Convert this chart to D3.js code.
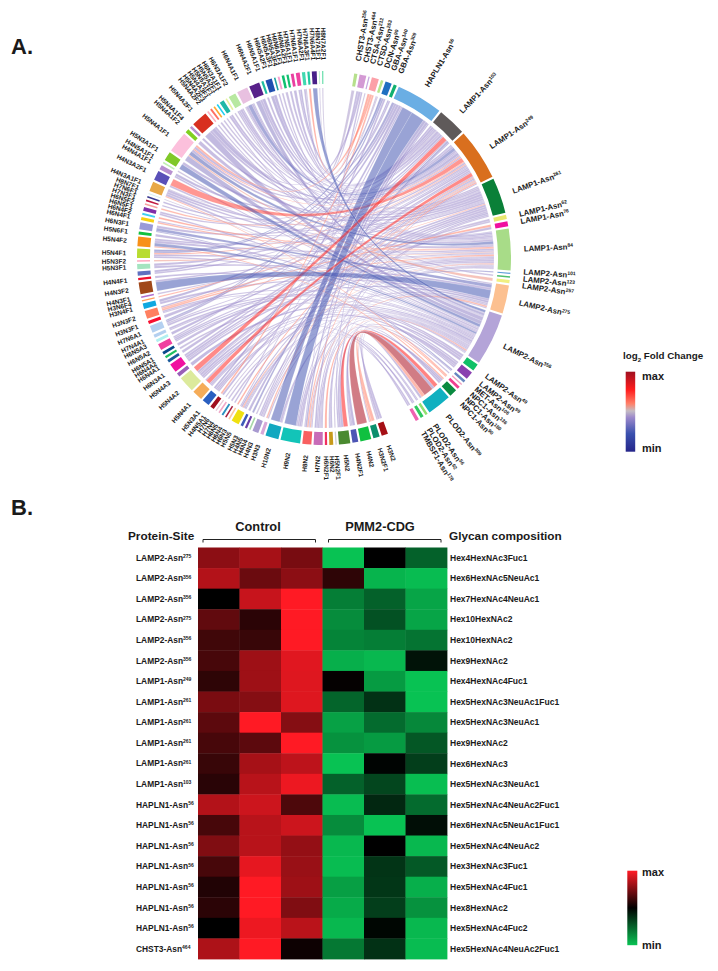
<!DOCTYPE html>
<html lang="en">
<head>
<meta charset="UTF-8">
<title>Glycopeptide chord diagram and heatmap</title>
<script src="https://d3js.org/d3.v7.min.js"></script>
<style>
    body { margin: 0; background: #fff; }
    svg { display: block; }
    text { font-family: "Liberation Sans", Arial, sans-serif; font-weight: bold; fill: #1a1a1a; }
</style>
</head>
<body>
<svg id="chart" width="718" height="971"></svg>
<script>
// protein sites clockwise from the top, arc length
const sites = ["CHST3-Asn256","CHST3-Asn464","CTSA-Asn212","CTSD-Asn263","DCN-Asn90","GBA-Asn140","GBA-Asn309","HAPLN1-Asn56",
    "LAMP1-Asn103","LAMP1-Asn249","LAMP1-Asn261","LAMP1-Asn62","LAMP1-Asn76","LAMP1-Asn84","LAMP2-Asn101","LAMP2-Asn123",
    "LAMP2-Asn257","LAMP2-Asn275","LAMP2-Asn356","LAMP2-Asn49","LAMP2-Asn99","MET-Asn106","NPC1-Asn136","NPC1-Asn180",
    "NPC1-Asn90","PLOD2-Asn309","PLOD2-Asn56","PLOD2-Asn62","TMBSF1-Asn178"];
const siteSizes = [1,2.1,.4,2.2,.8,2,1,14.5,8.8,16,11,1.3,1.6,12.9,.4,.5,1,8.8,16.1,2.3,2.5,.8,.4,.9,2.4,7.5,.8,1,1.1];
const siteColors = ["#b6e08c","#d49ad4","#c8a8e0","#fca0a8","#b8e68c","#1f6fc0","#10b070","#6aaee4","#5f5a5a","#d96f1e",
    "#0a8038","#e8e870","#f010a0","#a8dc88","#5f9fd8","#50c070","#f0f080","#fcc090","#b4a4d8","#10c068","#8a40b0","#6888c0",
    "#f0a0c0","#f04090","#0a8a40","#10b0c0","#90e070","#30c860","#f060b0"];

// glycans clockwise from the bottom
const glycans = ["H3N2","H3N2F1","H4N2","H4N2F1","H5N2","H5N2F1","H6N2","H6N2F1","H7N2","H8N2","H9N2","H10N2",
    "H3N3","H4N3","H4N4","H4N5","H5N3","H5N5","H6N3","H6N4","H6N5","H7N4","H7N6",
    "H4N5A1","H5N3A1","H5N4A1","H5N4A2","H5N4A3","H6N3A1","H6N4A1","H6N4A2","H6N5A1","H6N5A2","H6N5A3","H7N4A1","H7N6A1",
    "H3N3F1","H3N3F2","H3N4F1","H3N6F4","H4N3F1","H4N3F2","H4N4F1","","H5N3F1","H5N3F2","H5N4F1",
    "H5N4F2","H5N6F1","H6N3F1","H6N4F1","H6N4F2","H6N5F1","H6N5F2","H7N3F1","H7N6F1","H8N7F1",
    "H4N3A1F1","H4N3A2F1","H4N4A1F1","H4N5A1F1","H5N3A1F1","H5N4A1F1","H5N4A1F2","H5N4A1F4","H5N4A2F1",
    "H5N4A2F2","H5N4A2F3","H5N4A3F1","H5N5A1F1","H5N5A2F1","H6N3A1F1","H6N3A1F2","H6N4A1F1","H6N4A2F1",
    "H6N5A1F1","H6N5A2F1","H6N5A3F1","H6N5A3F4","H6N6A1F1","H6N6A2F1","H7N5A1F1","H7N6A1F1","H7N6A2F1","H7N6A3F1","H7N6A4F1",
    "H8N7A1F1","H8N7A2F1"];
const glycanSizes = [2,2,3.4,1.8,3.5,.4,1.2,.7,2.8,2.8,6.1,4.1,
    1,1.9,.5,.7,.8,2.4,.5,.5,.6,.5,.4,
    1.3,2.3,3.2,5,1.2,2.8,.9,.7,.9,2,.9,1,2.2,
    1,2.5,1.7,.4,.5,3.7,.7,1.3,1.6,.5,2.9,
    3,.9,2.2,1,.6,1.2,.5,.5,.5,.3,
    3,3,1.4,.5,2.8,6.5,1.2,.8,5,
    .5,.6,.5,.5,1.4,.5,2.3,3.4,3.3,
    .7,2,.5,.6,.8,.7,.9,1.2,1,.7,1.5,
    .3,.4];
const glycanColors = ["#a50f15","#0a8f6c","#10c040","#4d55b5","#4a8a30","#d0d0d0","#c79a1a","#f03060","#c86cb8","#f86060","#12c4b8","#12a8c0",
    "#d8a8d8","#a89ad0","#a8d8a8","#6a3fa8","#3f5bb8","#f0e010","#fcc8a0","#a82040","#2a90c0","#f0a8c8","#e8c8d8",
    "#a00f1f","#2a5fc0","#f5ac58","#dcea9c","#9a5fb8","#f010a0","#1a5a9a","#20c060","#0a4a8a","#f040a0","#b0f0f0","#b4d0f0",
    "#b4d0f0","#f81030","#ff8060","#10a8e0","#ffa060","#b070d0","#a0481a","#f01030","#6070c0","#a4e4c0","#ffa8c0","#b8dc30",
    "#f89018","#10c040","#9a9ad8","#f8d010","#40d0f0","#8030a8","#f8a0a0","#c01840","#3a3a90","#d8f0f0",
    "#e8a848","#5a50b8","#b890d0","#c0f0b0","#80c828","#fcc0dc","#80d020","#b890d0","#d83020",
    "#ffb0c0","#ff7060","#ffa830","#20d0f0","#20b8a8","#e8f0a0","#b8e8a0","#e8c0e0","#58208a",
    "#20c0a0","#2050b0","#20a0a0","#f8a0d0","#10c070","#10c070","#e840a0","#f040a0","#40d8b0","#20c8a0","#482088",
    "#c0f0d0","#70e0b0"];

// [glycan, site index, ribbon width, log2 fold change scaled to -1..1]
const links = [
    ["H3N2",25,.8,-.15],["H3N2",24,.7,-.15],["H3N2",18,.5,-.12],
    ["H3N2F1",25,1.1,.2],["H3N2F1",23,.5,.2],["H3N2F1",18,.4,-.15],
    ["H4N2",25,3.2,.95],
    ["H4N2F1",25,.9,-.18],["H4N2F1",20,.5,-.15],["H4N2F1",17,.4,-.15],
    ["H5N2",25,1.3,.55],["H5N2",18,.8,-.15],["H5N2",9,.6,-.15],["H5N2",7,.4,-.2],
    ["H5N2F1",13,.4,-.1],
    ["H6N2",24,.6,-.2],["H6N2",10,.6,-.15],["H6N2",21,.3,-.2],
    ["H6N2F1",18,.7,.25],
    ["H7N2",7,.8,-.2],["H7N2",10,.7,-.15],["H7N2",13,.7,-.15],["H7N2",18,.6,-.12],["H7N2",20,.5,-.15],["H7N2",28,.5,-.15],
    ["H8N2",7,.9,-.22],["H8N2",9,.7,.22],["H8N2",13,.6,-.15],["H8N2",17,.6,.18],["H8N2",1,.5,-.15],["H8N2",22,.3,-.15],["H8N2",27,.5,-.15],
    ["H9N2",7,4.2,-.5],["H9N2",18,.8,-.15],["H9N2",13,.6,-.15],["H9N2",9,.5,-.15],["H9N2",26,.4,-.15],
    ["H10N2",7,3.3,-.48],["H10N2",18,.8,-.15],["H10N2",26,.3,-.15],
    ["H3N3",9,.5,.18],["H3N3",17,.5,-.12],
    ["H4N3",8,.7,-.15],["H4N3",9,.6,-.15],["H4N3",18,.6,-.15],["H4N3",11,.5,-.12],
    ["H4N4",13,.5,-.1],["H4N5",8,.7,-.3],["H5N3",9,.8,-.18],
    ["H5N5",10,.7,-.2],["H5N5",18,.6,-.15],["H5N5",13,.6,.2],["H5N5",7,.5,-.15],["H5N5",14,.3,-.3],["H5N5",28,.5,-.15],
    ["H6N3",9,.5,.25],["H6N4",5,.6,-.15],["H6N5",17,.5,-.12],["H7N4",18,.5,-.12],["H7N6",13,.4,-.1],
    ["H4N5A1",9,.7,-.15],["H4N5A1",3,.6,.22],
    ["H5N3A1",7,.8,-.2],["H5N3A1",10,.8,-.15],["H5N3A1",18,.7,-.15],["H5N3A1",19,.6,-.15],
    ["H5N4A1",9,2,.5],["H5N4A1",8,.6,-.15],["H5N4A1",18,.6,-.15],["H5N4A1",24,.6,-.15],["H5N4A1",27,.5,-.15],
    ["H5N4A2",8,2.2,.5],["H5N4A2",13,1,-.15],["H5N4A2",10,1,-.15],["H5N4A2",18,.8,-.15],["H5N4A2",11,.6,-.12],["H5N4A2",20,.7,-.15],
    ["H5N4A3",18,1.2,-.18],
    ["H6N3A1",10,1,-.15],["H6N3A1",13,1,-.15],["H6N3A1",9,.8,-.15],["H6N3A1",12,.6,-.15],
    ["H6N4A1",9,.9,-.15],["H6N4A2",18,.7,-.12],["H6N5A1",13,.9,-.15],
    ["H6N5A2",17,.7,-.2],["H6N5A2",13,.7,-.15],["H6N5A2",8,.6,-.15],["H6N5A2",19,.5,-.15],
    ["H6N5A3",10,.9,-.18],
    ["H7N4A1",18,1,-.15],["H7N4A1",19,.5,-.15],
    ["H7N6A1",7,.8,-.2],["H7N6A1",18,.8,-.15],["H7N6A1",13,.6,-.12],["H7N6A1",5,.5,-.3],
    ["H3N3F1",9,1,-.15],
    ["H3N3F2",13,.9,.2],["H3N3F2",9,.8,-.15],["H3N3F2",18,.8,-.15],["H3N3F2",12,.6,.2],["H3N3F2",20,.5,-.15],
    ["H3N4F1",8,.9,-.2],["H3N4F1",17,.8,-.15],
    ["H3N6F4",10,.4,.22],["H4N3F1",13,.5,-.12],
    ["H4N3F2",17,3,-.5],["H4N3F2",13,.7,-.15],
    ["H4N4F1",18,.7,-.15],
    ["",7,.7,-.2],["",9,.6,-.15],
    ["H5N3F1",17,.8,-.15],["H5N3F1",9,.8,-.15],
    ["H5N3F2",13,.5,.15],
    ["H5N4F1",7,.8,-.3],["H5N4F1",13,.8,-.15],["H5N4F1",18,.7,-.15],["H5N4F1",9,.6,.2],["H5N4F1",5,.6,-.4],
    ["H5N4F2",18,1.2,-.45],["H5N4F2",13,1,-.15],["H5N4F2",10,.8,-.15],["H5N4F2",24,.5,.2],
    ["H5N6F1",18,.9,-.15],
    ["H6N3F1",17,1.2,-.4],["H6N3F1",9,1,-.15],["H6N3F1",21,.4,-.3],
    ["H6N4F1",13,.5,.2],["H6N4F1",10,.5,-.15],
    ["H6N4F2",13,.6,.25],
    ["H6N5F1",18,.6,-.15],["H6N5F1",8,.6,-.15],
    ["H6N5F2",9,.5,.2],["H7N3F1",10,.5,-.15],["H7N6F1",8,.5,-.18],["H8N7F1",18,.3,-.1],
    ["H4N3A1F1",13,1,-.15],["H4N3A1F1",10,1,-.15],["H4N3A1F1",18,1,-.15],["H4N3A1F1",4,.4,-.1],["H4N3A1F1",23,.5,.2],
    ["H4N3A2F1",9,2.4,.42],["H4N3A2F1",13,.6,-.15],
    ["H4N4A1F1",9,.8,-.18],["H4N4A1F1",18,.6,-.15],
    ["H4N5A1F1",18,.5,-.1],
    ["H5N3A1F1",18,1.8,-.48],["H5N3A1F1",10,1,-.15],
    ["H5N4A1F1",13,1.7,-.45],["H5N4A1F1",18,2.4,-.22],["H5N4A1F1",8,1.2,-.15],["H5N4A1F1",10,1.2,-.15],["H5N4A1F1",9,.5,.25],["H5N4A1F1",3,.8,.22],["H5N4A1F1",16,.7,.15],
    ["H5N4A1F2",13,1.2,-.15],["H5N4A1F4",9,.8,-.15],
    ["H5N4A2F1",18,2.6,-.2],["H5N4A2F1",10,1,-.15],["H5N4A2F1",9,1.4,-.2],["H5N4A2F1",1,.8,-.15],
    ["H5N4A2F2",17,.5,-.12],["H5N4A2F3",13,.6,-.12],["H5N4A3F1",10,.5,-.12],["H5N5A1F1",18,.5,-.12],
    ["H5N5A2F1",9,.7,-.15],["H5N5A2F1",13,.7,-.15],
    ["H6N3A1F1",8,.5,-.1],
    ["H6N3A1F2",9,1,-.15],["H6N3A1F2",10,.7,-.15],["H6N3A1F2",18,.6,-.15],["H6N3A1F2",6,.5,-.15],
    ["H6N4A1F1",9,1.6,-.4],["H6N4A1F1",13,1,-.15],["H6N4A1F1",8,.8,-.15],["H6N4A1F1",6,.4,-.2],["H6N4A1F1",15,.4,-.12],
    ["H6N4A2F1",18,1.5,-.22],["H6N4A2F1",9,1,-.18],["H6N4A2F1",13,.8,-.15],
    ["H6N5A1F1",8,.7,-.15],
    ["H6N5A2F1",13,1,-.2],["H6N5A2F1",8,1,-.18],
    ["H6N5A3F1",9,.5,-.15],["H6N5A3F4",18,.6,-.12],["H6N6A1F1",10,.8,-.12],["H6N6A2F1",13,.7,-.15],["H7N5A1F1",8,.9,-.15],
    ["H7N6A1F1",9,.6,-.2],["H7N6A1F1",10,.6,-.15],
    ["H7N6A2F1",1,.6,-.15],["H7N6A2F1",0,.4,-.1],
    ["H7N6A3F1",3,.7,.25],["H7N6A4F1",18,1.5,-.52],
    ["H8N7A1F1",2,.3,-.1],["H8N7A2F1",4,.4,-.1]
];

// heatmap rows
const heatSites = ["LAMP2-Asn275","LAMP2-Asn356","LAMP2-Asn356","LAMP2-Asn275","LAMP2-Asn356","LAMP2-Asn356","LAMP1-Asn249",
    "LAMP1-Asn261","LAMP1-Asn261","LAMP1-Asn261","LAMP1-Asn261","LAMP1-Asn103","HAPLN1-Asn56","HAPLN1-Asn56","HAPLN1-Asn56",
    "HAPLN1-Asn56","HAPLN1-Asn56","HAPLN1-Asn56","HAPLN1-Asn56","CHST3-Asn464"];
const heatGlycans = ["Hex4HexNAc3Fuc1","Hex6HexNAc5NeuAc1","Hex7HexNAc4NeuAc1","Hex10HexNAc2","Hex10HexNAc2","Hex9HexNAc2",
    "Hex4HexNAc4Fuc1","Hex5HexNAc3NeuAc1Fuc1","Hex5HexNAc3NeuAc1","Hex9HexNAc2","Hex6HexNAc3","Hex5HexNAc3NeuAc1",
    "Hex5HexNAc4NeuAc2Fuc1","Hex6HexNAc5NeuAc1Fuc1","Hex5HexNAc4NeuAc2","Hex3HexNAc3Fuc1","Hex5HexNAc4Fuc1","Hex8HexNAc2",
    "Hex5HexNAc4Fuc2","Hex5HexNAc4NeuAc2Fuc1"];
const heatValues = [
    [.55,.65,.47,-1,0,-.5],
    [.7,.42,.55,.18,-.93,-.97],
    [0,.78,1,-.65,-.5,-.85],
    [.38,.17,1,-.72,-.42,-.85],
    [.25,.22,1,-.68,-.65,-.6],
    [.28,.62,.88,-.9,-.95,-.1],
    [.18,.62,.87,.02,-.8,-1],
    [.48,.52,.87,-.52,-.25,-1],
    [.36,1,.52,-.83,-.55,-.7],
    [.28,.36,1,-.75,-.8,-.45],
    [.22,.65,.74,-1,-.02,-.32],
    [.16,.72,.93,-.5,-.36,-.98],
    [.7,.8,.3,-.97,-.2,-.55],
    [.28,.72,.8,-.72,-1,-.07],
    [.5,.72,.58,-.95,0,-.95],
    [.28,.9,.6,-.97,-.27,-.46],
    [.13,1,.62,-.82,-.28,-.9],
    [.17,1,.5,-.88,-.32,-.75],
    [0,.93,.73,-.95,-.03,-.95],
    [.68,1,.05,-.62,-.25,-.97]
];
const heatColumns = ["c1","c2","c3","p1","p2","p3"];

const svg = d3.select("#chart");

const foldColor = d3.scaleLinear()
    .domain([-1, -.55, -.14, .02, .2, .55, 1])
    .range(["#25258a", "#3a50ae", "#9d8acb", "#c4bcc4", "#ff8068", "#ff1c1c", "#a01020"]);
const heatColor = d3.scaleLinear()
    .domain([-1, 0, 1])
    .range(["#08c253", "#000000", "#ff1a24"]);

const rad = d => d * Math.PI / 180;

// arcs fill [from, to] degrees, whatever is left over becomes the gaps
function layoutArcs(names, sizes, from, to) {
    const gap = (to - from - d3.sum(sizes)) / (names.length - 1);
    let pos = from;
    return names.map((name, i) => {
        const arc = {name, index: i, start: pos, end: pos + sizes[i], slices: []};
        pos += sizes[i] + gap;
        return arc;
    });
}

const siteArcs = layoutArcs(sites, siteSizes, 9.3, 150.6);
const glycanArcs = layoutArcs(glycans, glycanSizes, 160, 359.8);
const glycanByName = new Map(glycanArcs.map(d => [d.name, d]));

const ribbons = links.map(([g, s, w, fc]) => {
    const r = {glycan: glycanByName.get(g), site: siteArcs[s], w, fc};
    r.glycan.slices.push({ribbon: r, other: r.site});
    r.site.slices.push({ribbon: r, other: r.glycan});
    return r;
});

// split each arc between its ribbons, ordered so they leave without crossing
[...siteArcs, ...glycanArcs].forEach(arc => {
    const total = d3.sum(arc.slices, d => d.ribbon.w);
    const k = (arc.end - arc.start) / (total || 1);
    const mid = (arc.start + arc.end) / 2;
    arc.slices.sort((a, b) => {
        const ra = ((a.other.start + a.other.end) / 2 - mid + 360) % 360;
        const rb = ((b.other.start + b.other.end) / 2 - mid + 360) % 360;
        return rb - ra;
    });
    let pos = arc.start;
    arc.slices.forEach(sl => {
        const span = sl.ribbon.w * k;
        const end = {startAngle: rad(pos), endAngle: rad(pos + span)};
        if (arc.name === sl.ribbon.glycan.name && sl.other === sl.ribbon.site) sl.ribbon.gEnd = end;
        else sl.ribbon.sEnd = end;
        pos += span;
    });
});

// A. chord diagram
const cx = 324, cy = 258, ringOuter = 187, ringInner = 174, ribbonR = 170;
const chord = svg.append("g").attr("transform", `translate(${cx},${cy})`);

const ribbonPath = d3.ribbon().radius(ribbonR);
chord.append("g").selectAll("path")
    .data(ribbons.slice().sort((a, b) => Math.abs(a.fc) - Math.abs(b.fc)))
    .join("path")
    .attr("d", d => ribbonPath({source: d.gEnd, target: d.sEnd}))
    .attr("fill", d => foldColor(d.fc))
    .attr("fill-opacity", .55)
    .attr("stroke", "#fff")
    .attr("stroke-opacity", .6)
    .attr("stroke-width", .25);

const ringArc = d3.arc().innerRadius(ringInner).outerRadius(ringOuter)
    .startAngle(d => rad(d.start)).endAngle(d => rad(d.end));
chord.append("g").selectAll("path")
    .data(siteArcs)
    .join("path").attr("d", ringArc).attr("fill", d => siteColors[d.index]);
chord.append("g").selectAll("path")
    .data(glycanArcs)
    .join("path").attr("d", ringArc).attr("fill", d => glycanColors[d.index]);

// push neighbouring labels apart a little
function spreadLabels(arcs, minSep) {
    const pos = arcs.map(d => (d.start + d.end) / 2);
    for (let it = 0; it < 60; it++) {
        for (let i = 1; i < pos.length; i++) {
            const over = minSep - (pos[i] - pos[i - 1]);
            if (over > 0) { pos[i - 1] -= over / 2; pos[i] += over / 2; }
        }
    }
    return pos;
}

function addSiteText(sel, name, supSize) {
    const m = name.match(/^(.*Asn)(\d+)$/);
    sel.append("tspan").text(m[1]);
    sel.append("tspan").attr("dy", -supSize * .55).attr("font-size", supSize).text(m[2]);
}

const siteLabelPos = spreadLabels(siteArcs, 2.0);
siteArcs.forEach((d, i) => {
    const a = siteLabelPos[i];
    const t = chord.append("text")
        .attr("transform", `rotate(${a - 90}) translate(${ringOuter + 13},0)`)
        .attr("dy", "0.35em")
        .attr("font-size", 7.8);
    addSiteText(t, d.name, 5);
});

const glycanLabelPos = spreadLabels(glycanArcs, 1.45);
chord.append("g").selectAll("text")
    .data(glycanArcs)
    .join("text")
    .attr("transform", (d, i) => {
        const a = glycanLabelPos[i];
        return a > 180
            ? `rotate(${a - 90}) translate(${ringOuter + 11},0) rotate(180)`
            : `rotate(${a - 90}) translate(${ringOuter + 11},0)`;
    })
    .attr("text-anchor", (d, i) => glycanLabelPos[i] > 180 ? "end" : "start")
    .attr("dy", "0.35em")
    .attr("font-size", 6.5)
    .text(d => d.name);

svg.append("text").attr("x", 11).attr("y", 54).attr("font-size", 22).text("A.");
svg.append("text").attr("x", 11).attr("y", 515).attr("font-size", 22).text("B.");

// B. heatmap
const x = d3.scaleBand().domain(heatColumns).range([198, 447]);
const y = d3.scaleBand().domain(d3.range(heatValues.length)).range([547.5, 959]);

svg.append("g").selectAll("g")
    .data(heatValues)
    .join("g")
    .attr("transform", (d, i) => `translate(0,${y(i)})`)
    .selectAll("rect")
    .data(d => d.map((v, j) => ({v, col: heatColumns[j]})))
    .join("rect")
    .attr("x", d => x(d.col))
    .attr("width", x.bandwidth() + .4)
    .attr("height", y.bandwidth() + .4)
    .attr("fill", d => heatColor(d.v));

heatSites.forEach((name, i) => {
    const t = svg.append("text")
        .attr("x", 136)
        .attr("y", y(i) + y.bandwidth() / 2)
        .attr("dy", "0.35em")
        .attr("font-size", 8.4);
    addSiteText(t, name, 5);
});
svg.append("g").selectAll("text")
    .data(heatGlycans)
    .join("text")
    .attr("x", 450)
    .attr("y", (d, i) => y(i) + y.bandwidth() / 2)
    .attr("dy", "0.35em")
    .attr("font-size", 8.5)
    .text(d => d);

svg.append("text").attr("x", 128).attr("y", 540).attr("font-size", 11.8).text("Protein-Site");
svg.append("text").attr("x", 449).attr("y", 540).attr("font-size", 11.8).text("Glycan composition");
svg.append("text").attr("x", 258).attr("y", 531).attr("text-anchor", "middle").attr("font-size", 12.8).text("Control");
svg.append("text").attr("x", 380).attr("y", 531).attr("text-anchor", "middle").attr("font-size", 12.8).text("PMM2-CDG");

[[203, 315.5], [328.5, 441]].forEach(([a, b]) => {
    svg.append("path")
        .attr("d", d3.line()([[a, 542.5], [a, 539.5], [b, 539.5], [b, 542.5]]))
        .attr("fill", "none").attr("stroke", "#222").attr("stroke-width", 1);
});

// colour legends
const defs = svg.append("defs");
function addLegend(id, scale, stops, x0, y0, w, h) {
    const grad = defs.append("linearGradient").attr("id", id)
        .attr("x1", 0).attr("x2", 0).attr("y1", 0).attr("y2", 1);
    const pos = d3.scaleLinear().domain(d3.extent(stops)).range([100, 0]);
    stops.slice().reverse().forEach(v => {
        grad.append("stop").attr("offset", pos(v) + "%").attr("stop-color", scale(v));
    });
    svg.append("rect").attr("x", x0).attr("y", y0).attr("width", w).attr("height", h).attr("fill", `url(#${id})`);
}
addLegend("foldGrad", foldColor, foldColor.domain(), 625.7, 371.7, 9.5, 80);
addLegend("heatGrad", heatColor, heatColor.domain(), 627.3, 870.7, 10, 74.5);

const logTitle = svg.append("text").attr("x", 623).attr("y", 359).attr("font-size", 9.8);
logTitle.append("tspan").text("log");
logTitle.append("tspan").attr("dy", 2.5).attr("font-size", 6).text("2");
logTitle.append("tspan").attr("dy", -2.5).text(" Fold Change");

[["max", 642, 380], ["min", 642, 452], ["max", 642, 876], ["min", 642, 949]].forEach(([s, lx, ly]) => {
    svg.append("text").attr("x", lx).attr("y", ly).attr("font-size", 11).text(s);
});
</script>
</body>
</html>
